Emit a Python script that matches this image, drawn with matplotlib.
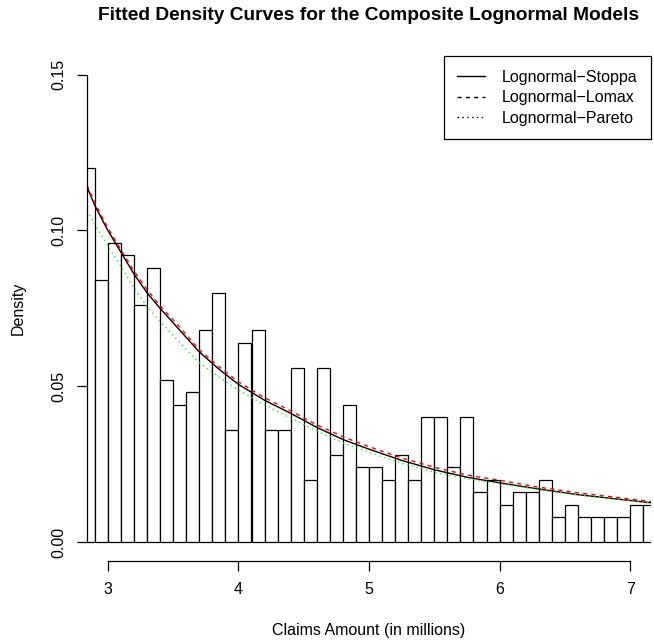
import numpy as np
import matplotlib

matplotlib.use("Agg")
import matplotlib.pyplot as plt

plt.rcParams["font.family"] = ["Liberation Sans", "DejaVu Sans"]

# histogram: bin edges (width 0.1) and densities
bin_left = np.round(np.arange(2.8, 7.2, 0.1), 2)
density = [
    0.120, 0.084, 0.096, 0.092, 0.076, 0.088, 0.052, 0.044, 0.048, 0.068,
    0.080, 0.036, 0.064, 0.068, 0.036, 0.036, 0.056, 0.020, 0.056, 0.028,
    0.044, 0.024, 0.024, 0.020, 0.028, 0.020, 0.040, 0.040, 0.024, 0.040,
    0.016, 0.020, 0.012, 0.016, 0.016, 0.020, 0.008, 0.012, 0.008, 0.008,
    0.008, 0.008, 0.012, 0.012,
]

# fitted density curves
curve_x = [2.84, 2.90, 3.00, 3.10, 3.20, 3.30, 3.40, 3.55, 3.70, 3.85, 4.00, 4.20,
           4.40, 4.60, 4.80, 5.00, 5.25, 5.50, 5.75, 6.00, 6.30, 6.60, 6.90, 7.16]
stoppa = [0.1140, 0.1080, 0.1000, 0.0930, 0.0860, 0.0800, 0.0750, 0.0680, 0.0610,
          0.0555, 0.0506, 0.0455, 0.0413, 0.0368, 0.0329, 0.0298, 0.0262, 0.0232,
          0.0208, 0.0190, 0.0170, 0.0152, 0.0138, 0.0126]
lomax = [0.1145, 0.1088, 0.1008, 0.0938, 0.0870, 0.0810, 0.0758, 0.0690, 0.0617,
         0.0563, 0.0514, 0.0463, 0.0421, 0.0376, 0.0338, 0.0306, 0.0270, 0.0240,
         0.0215, 0.0198, 0.0176, 0.0158, 0.0143, 0.0130]
pareto = [0.1064, 0.1020, 0.0950, 0.0885, 0.0815, 0.0756, 0.0708, 0.0640, 0.0575,
          0.0530, 0.0487, 0.0440, 0.0398, 0.0357, 0.0318, 0.0288, 0.0253, 0.0224,
          0.0203, 0.0187, 0.0168, 0.0151, 0.0137, 0.0125]

W, H = 654, 644
fig = plt.figure(figsize=(W / 100, H / 100), dpi=100)
ax = fig.add_axes([87 / W, 1 - 560.7 / H, (651 - 87) / W, (560.7 - 56) / H])

ax.bar(bin_left, density, width=0.1, align="edge", color="white",
       edgecolor="black", linewidth=0.9)
ax.plot(curve_x, stoppa, color="black", lw=1.0)
ax.plot(curve_x, lomax, color="red", lw=1.0, dashes=(3, 3))
ax.plot(curve_x, pareto, color="#22ee22", lw=1.0, dashes=(1, 2.5))

ax.set_xlim(2.84, 7.16)
ax.set_ylim(-0.006, 0.156)
for s in ("top", "right"):
    ax.spines[s].set_visible(False)
ax.spines["bottom"].set_bounds(3, 7)
ax.spines["left"].set_bounds(0, 0.15)
ax.spines["bottom"].set_linewidth(0.9)
ax.spines["left"].set_linewidth(0.9)
ax.set_xticks([3, 4, 5, 6, 7])
ax.set_yticks([0.0, 0.05, 0.10, 0.15])
ax.set_yticklabels(["0.00", "0.05", "0.10", "0.15"], rotation=90, va="center")
ax.tick_params(axis="x", length=7.2, width=0.9, pad=7.9, labelsize=11.5)
ax.tick_params(axis="y", length=7.2, width=0.9, pad=7.3, labelsize=11.5)

# legend uses black lines for all three entries
h1, = ax.plot([], [], color="black", lw=1.0)
h2, = ax.plot([], [], color="black", lw=1.0, dashes=(3, 3))
h3, = ax.plot([], [], color="black", lw=1.0, dashes=(1, 2.5))
leg = ax.legend([h1, h2, h3],
                ["Lognormal\u2212Stoppa", "Lognormal\u2212Lomax", "Lognormal\u2212Pareto"],
                loc="upper right", bbox_to_anchor=(1, 1), borderaxespad=0,
                fancybox=False, framealpha=1, edgecolor="black", fontsize=11.5,
                handlelength=1.75, handletextpad=1.05, borderpad=0.85,
                labelspacing=0.35)
leg.get_frame().set_linewidth(0.9)

fig.text(369 / W, 1 - 16 / H, "Fitted Density Curves for the Composite Lognormal Models",
         ha="center", va="center", fontsize=13.8, fontweight="bold")
fig.text(369 / W, 1 - 630 / H, "Claims Amount (in millions)",
         ha="center", va="center", fontsize=11.5)
fig.text(18 / W, 1 - 308 / H, "Density", ha="center", va="center",
         rotation=90, fontsize=11.5)

fig.savefig("out.png", dpi=100)
